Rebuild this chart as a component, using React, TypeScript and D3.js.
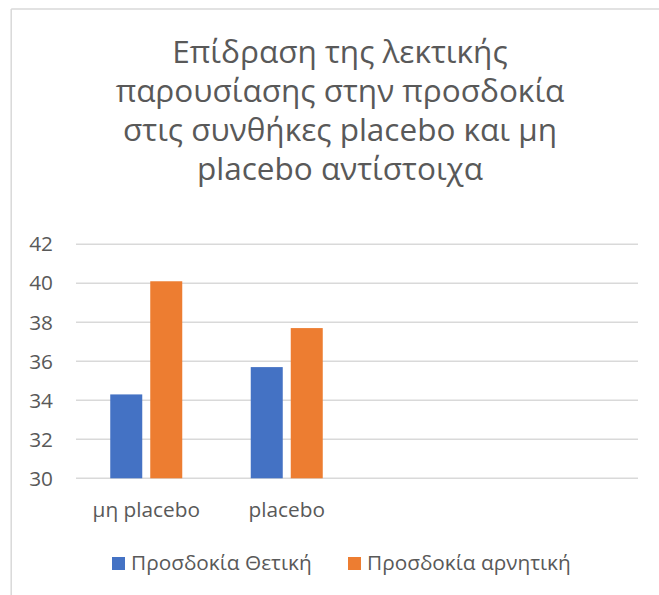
import React from "react";
import * as d3 from "d3";

// Chart data
const categories = ["μη placebo", "placebo", "", ""];
const seriesNames = ["Προσδοκία Θετική", "Προσδοκία αρνητική"];
const positiveValues = [34.3, 35.7];
const negativeValues = [40.1, 37.7];
const yTicks = [30, 32, 34, 36, 38, 40, 42];
const titleLines = [
  "Επίδραση της λεκτικής",
  "παρουσίασης στην προσδοκία",
  "στις συνθήκες placebo και μη",
  "placebo αντίστοιχα",
];

const W = 659;
const H = 595;
const COLORS = ["#4472C4", "#ED7D31"];
const TEXT = "#595959";
const GRID = "#d9d9d9";
const FONT = "'Open Sans', 'Noto Sans', sans-serif";
const LABEL_SIZE = 20.8;

export default function App() {
  const plot = { left: 76, right: 638, top: 244.2, bottom: 478.3 };

  const x0 = d3
    .scaleBand<number>()
    .domain(d3.range(categories.length))
    .range([plot.left, plot.right])
    .padding(0);

  const groupInner = 72;
  const x1 = d3
    .scaleBand<number>()
    .domain(d3.range(seriesNames.length))
    .range([0, groupInner])
    .paddingInner(0.2)
    .paddingOuter(0);

  const y = d3.scaleLinear().domain([30, 42]).range([plot.bottom, plot.top]);

  const series = [positiveValues, negativeValues];
  const groupOffset = (x0.bandwidth() - groupInner) / 2;

  return (
    <svg
      width={W}
      height={H}
      style={{ position: "absolute", left: 0, top: 0, background: "#fff", display: "block" }}
      fontFamily={FONT}
    >
      <rect x={0} y={0} width={W} height={H} fill="#fff" />
      {/* chart frame */}
      <line x1={11.2} y1={9} x2={W} y2={9} stroke={GRID} strokeWidth={1.5} />
      <line x1={11.2} y1={9} x2={11.2} y2={H} stroke={GRID} strokeWidth={1.5} />

      {/* title */}
      {titleLines.map((t, i) => (
        <text
          key={i}
          x={340}
          y={63 + i * 39}
          textAnchor="middle"
          fontSize={31.5}
          fill={TEXT}
        >
          {t}
        </text>
      ))}

      {/* gridlines and y labels */}
      {yTicks.map((v) => (
        <g key={v}>
          <line
            x1={plot.left}
            x2={plot.right}
            y1={y(v)}
            y2={y(v)}
            stroke={GRID}
            strokeWidth={1.4}
          />
          <text
            x={53}
            y={y(v)}
            dy="0.35em"
            textAnchor="end"
            fontSize={LABEL_SIZE}
            fill={TEXT}
          >
            {v}
          </text>
        </g>
      ))}

      {/* bars */}
      {series.map((vals, s) =>
        vals.map((v, i) => (
          <rect
            key={`${s}-${i}`}
            x={(x0(i) as number) + groupOffset + (x1(s) as number)}
            y={y(v)}
            width={x1.bandwidth()}
            height={y(30) - y(v)}
            fill={COLORS[s]}
          />
        ))
      )}

      {/* category labels */}
      {categories.map((c, i) => (
        <text
          key={i}
          x={(x0(i) as number) + x0.bandwidth() / 2}
          y={517}
          textAnchor="middle"
          fontSize={LABEL_SIZE}
          fill={TEXT}
        >
          {c}
        </text>
      ))}

      {/* legend */}
      {seriesNames.map((name, s) => {
        const lx = [112, 348][s];
        return (
          <g key={name}>
            <rect x={lx} y={557} width={13} height={13} fill={COLORS[s]} />
            <text x={lx + 19} y={570} fontSize={LABEL_SIZE} fill={TEXT}>
              {name}
            </text>
          </g>
        );
      })}
    </svg>
  );
}
